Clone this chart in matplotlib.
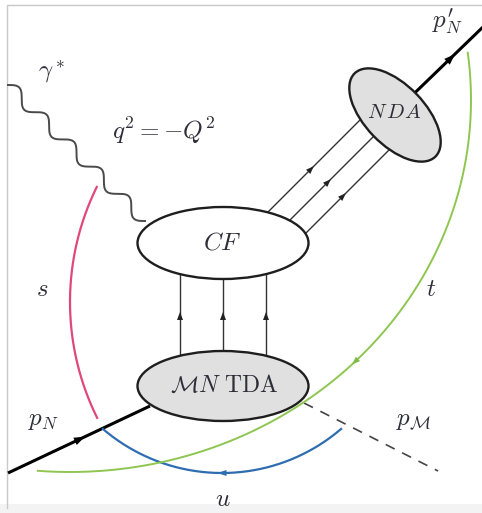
import matplotlib
matplotlib.use('Agg')
import matplotlib.pyplot as plt
from matplotlib.patches import Ellipse, Polygon, Rectangle
import numpy as np

plt.rcParams['mathtext.fontset'] = 'cm'
plt.rcParams['font.family'] = ['DejaVu Serif']

# diagram geometry, in pixel coordinates of the 482x513 picture (y grows down)
nucleon_in = [(8, 473), (150, 406)]
nucleon_out = [(395, 112), (484, 26)]
photon_start, photon_end = (8, 85), (145, 221)
photon_cycles = 5

blobs = {
    # name: (cx, cy, width, height, angle, face)
    'CF': (223, 243, 171, 72, 0, 'white'),
    'TDA': (223, 386, 171, 70, 0, '#e0e0e0'),
    'NDA': (395, 115, 116, 60, 46, '#e0e0e0'),
}
quark_x = [180, 223, 266]              # CF -> TDA vertical lines
quark_arrow_y = 316
diag_sums = [480, 510, 539]            # x + y = const lines, CF -> NDA
diag_arrow_x = [311, 328, 343]
meson_line = [(304, 403), (438, 471)]

# invariant arcs: circle (cx, cy, r, th0, th1) or ellipse (cx, cy, a, b, th0, th1)
s_arc = (330.5, 302, 260.5, 153.6, 206.2)
u_arc = (222, 290, 183, 49.4, 130.6)
t_arc = (70, 100, 401, 372, -7.3, 94.6)

labels = [
    (r'$\gamma^*$', 52, 72, 18),
    (r'$q^2=-Q^2$', 164, 131, 18),
    (r'$CF$', 222, 243, 18),
    (r'$N\,DA$', 394, 113, 15),
    (r'$\mathcal{M}N\ \mathrm{TDA}$', 224, 385, 17),
    (r'$s$', 42, 290, 18),
    (r'$t$', 431, 289, 18),
    (r'$p_N$', 43, 421, 18),
    (r'$p_{\mathcal{M}}$', 414, 421, 18),
    (r'$u$', 223, 500, 18),
    (r"$p^{\prime}_N$", 447, 22, 18),
]


def arrowhead(ax, x, y, dx, dy, length, width, color, z=6):
    n = np.hypot(dx, dy)
    ux, uy = dx / n, dy / n
    px, py = -uy, ux
    tip = (x + ux * length / 2, y + uy * length / 2)
    b1 = (x - ux * length / 2 + px * width / 2, y - uy * length / 2 + py * width / 2)
    b2 = (x - ux * length / 2 - px * width / 2, y - uy * length / 2 - py * width / 2)
    ax.add_patch(Polygon([tip, b1, b2], closed=True, color=color, zorder=z, lw=0))


fig = plt.figure(figsize=(4.82, 5.13), dpi=100)
ax = fig.add_axes([0, 0, 1, 1])
ax.set_xlim(0, 482)
ax.set_ylim(513, 0)
ax.axis('off')

# frame of the screenshot
ax.add_patch(Rectangle((0, 504), 482, 9, color='#f3f3f3', lw=0, zorder=0))
ax.plot([7, 7, 482], [508, 5, 5], color='#c8c8c8', lw=1.0, zorder=0)

# nucleon lines
ax.plot(*zip(*nucleon_in), color='black', lw=2.2, solid_capstyle='butt', zorder=2)
ax.plot(*zip(*nucleon_out), color='black', lw=2.2, solid_capstyle='butt', zorder=2)
arrowhead(ax, 80, 439, 135, -64, 11, 8, 'black')
arrowhead(ax, 451, 58, 65, -62, 11, 8, 'black')

# photon
p0, p1 = np.array(photon_start, float), np.array(photon_end, float)
L = np.hypot(*(p1 - p0))
d = (p1 - p0) / L
nrm = np.array([d[1], -d[0]])
lam = L / photon_cycles
amp = 1.0 * lam / (2 * np.pi)
tt = np.linspace(0, L, 600)
off = amp * np.sin(2 * np.pi * tt / lam)
pts = p0[None, :] + tt[:, None] * d[None, :] + off[:, None] * nrm[None, :]
ax.plot(pts[:, 0], pts[:, 1], color='#4a4a4a', lw=1.4, zorder=2)

# quark lines CF -> TDA
for x in quark_x:
    ax.plot([x, x], [250, 380], color='#333333', lw=1.0, zorder=1)
    arrowhead(ax, x, quark_arrow_y, 0, -1, 8, 6, '#222222')

# quark lines CF -> NDA
for c, xa in zip(diag_sums, diag_arrow_x):
    ax.plot([c - 250, c - 110], [250, 110], color='#333333', lw=1.0, zorder=1)
    arrowhead(ax, xa, c - xa, 1, -1, 8, 6, '#222222')

# meson
ax.plot(*zip(*meson_line), color='#444444', lw=1.2, ls=(0, (6, 5)), zorder=1)

# blobs
for name, (cx, cy, w, h, ang, face) in blobs.items():
    ax.add_patch(Ellipse((cx, cy), w, h, angle=ang, facecolor=face,
                         edgecolor='#1e1e1e', lw=1.7, zorder=4))

# s arc
cx, cy, r, a0, a1 = s_arc
th = np.radians(np.linspace(a0, a1, 200))
ax.plot(cx + r * np.cos(th), cy + r * np.sin(th), color='#e0487c', lw=1.6, zorder=3)

# u arc
cx, cy, r, a0, a1 = u_arc
th = np.radians(np.linspace(a0, a1, 200))
ax.plot(cx + r * np.cos(th), cy + r * np.sin(th), color='#2e6db0', lw=1.6, zorder=3)
arrowhead(ax, cx, cy + r, -1, 0, 9, 6, '#2e6db0')

# t arc
cx, cy, a, b, a0, a1 = t_arc
th = np.radians(np.linspace(a0, a1, 400))
ax.plot(cx + a * np.cos(th), cy + b * np.sin(th), color='#8ec651', lw=1.4, zorder=5)
tm = np.radians(44.7)
arrowhead(ax, cx + a * np.cos(tm), cy + b * np.sin(tm),
          -a * np.sin(tm), b * np.cos(tm), 8, 6, '#7dbb45')

for txt, x, y, fs in labels:
    ax.text(x, y, txt, fontsize=fs, color='#2e2e38', ha='center', va='center', zorder=7)

fig.savefig('out.png', dpi=100)
